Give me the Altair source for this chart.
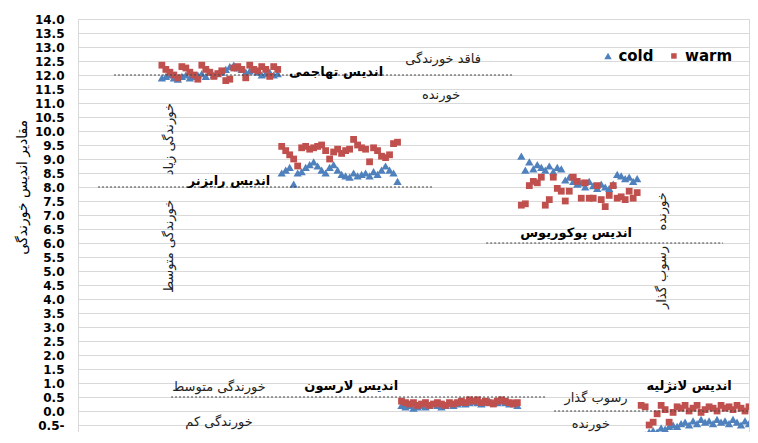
import altair as alt
import pandas as pd

# ---- data (corrosion index values, cold / warm season) ----
index_order = ["aggressive", "ryznar", "larson", "puckorius", "langelier"]

cold_aggressive = [11.9, 11.95, 12.0, 11.9, 11.85, 11.95, 12.0, 11.9, 11.95, 12.0,
                   12.05, 11.95, 12.1, 12.0, 12.05, 12.1, 12.2, 12.3, 12.35, 12.25,
                   12.2, 12.1, 12.15, 12.2, 12.1, 12.0, 12.05, 12.1, 12.0, 12.05]
warm_aggressive = [12.35, 12.2, 12.1, 12.0, 11.9, 12.3, 12.25, 12.1, 12.0, 11.85,
                   12.35, 12.2, 12.1, 11.95, 12.05, 12.15, 11.8, 11.85, 12.25, 12.3,
                   12.2, 11.9, 12.35, 12.2, 12.15, 12.3, 12.2, 11.95, 12.3, 12.2]
cold_ryznar = [8.5, 8.6, 8.7, 8.1, 8.5, 8.55, 8.7, 8.8, 8.9, 8.75,
               8.6, 8.5, 8.7, 8.8, 8.6, 8.45, 8.4, 8.35, 8.5, 8.4,
               8.45, 8.5, 8.4, 8.55, 8.45, 8.6, 8.75, 8.6, 8.5, 8.2]
warm_ryznar = [9.45, 9.3, 9.15, 9.0, 8.75, 9.4, 9.45, 9.35, 9.4, 9.45,
               9.5, 9.3, 9.0, 9.25, 9.35, 9.2, 9.3, 9.35, 9.7, 9.5,
               9.4, 9.35, 8.9, 9.4, 9.3, 9.1, 9.05, 9.15, 9.55, 9.6]
cold_larson = [0.2, 0.15, 0.2, 0.1, 0.15, 0.2, 0.15, 0.2, 0.25, 0.2,
               0.15, 0.2, 0.25, 0.2, 0.25, 0.3, 0.25, 0.3, 0.35, 0.3,
               0.25, 0.3, 0.35, 0.3, 0.3, 0.35, 0.3, 0.25, 0.3, 0.2]
warm_larson = [0.35, 0.3, 0.25, 0.3, 0.2, 0.25, 0.3, 0.2, 0.25, 0.3,
               0.25, 0.2, 0.3, 0.25, 0.3, 0.35, 0.3, 0.4, 0.35, 0.4,
               0.3, 0.35, 0.3, 0.25, 0.35, 0.4, 0.35, 0.3, 0.25, 0.3]
cold_puckorius = [9.1, 8.6, 8.9, 8.65, 8.8, 8.7, 8.6, 8.75, 8.55, 8.7,
                  8.65, 8.25, 8.35, 8.2, 8.1, 8.15, 8.0, 8.2, 8.05, 7.95,
                  8.1, 8.0, 7.95, 8.1, 8.45, 8.4, 8.3, 8.35, 8.2, 8.3]
warm_puckorius = [7.35, 7.4, 8.05, 8.2, 8.15, 8.35, 7.35, 7.55, 8.35, 7.95,
                  7.85, 7.5, 7.85, 8.35, 8.2, 7.6, 8.15, 7.6, 7.6, 8.05,
                  7.55, 7.3, 7.7, 8.05, 7.6, 7.65, 7.55, 7.85, 7.6, 7.8]
cold_langelier = [-0.9, -0.85, -0.75, -0.7, -0.75, -0.6, -0.65, -0.55, -0.5, -0.55,
                  -0.45, -0.4, -0.5, -0.35, -0.45, -0.3, -0.4, -0.35, -0.45, -0.3,
                  -0.4, -0.35, -0.45, -0.3, -0.4, -0.5, -0.35, -0.45, -0.4, -0.35]
warm_langelier = [0.2, 0.15, -0.5, -0.4, -0.1, 0.2, 0.05, -0.4, -0.05, 0.15,
                  0.1, 0.2, 0.0, 0.1, 0.2, -0.05, 0.05, 0.15, 0.1, 0.0,
                  0.2, 0.1, 0.15, 0.05, 0.2, 0.1, 0.0, 0.15, 0.1, 0.2]

series = {
    "aggressive": (cold_aggressive, warm_aggressive),
    "ryznar": (cold_ryznar, warm_ryznar),
    "larson": (cold_larson, warm_larson),
    "puckorius": (cold_puckorius, warm_puckorius),
    "langelier": (cold_langelier, warm_langelier),
}
first_sample = 21
samples_per_index = 30

# threshold lines of each index (limit value and sample range of the dotted line)
limit_values = [12.0, 8.0, 0.5, 6.0, 0.0]
limit_start = [9.0, 5.0, 23.3, 102.2, 119.2]
limit_end = [108.9, 88.9, 117.2, 161.5, 168.0]

# annotations
bold_labels = ["اندیس تهاجمی", "اندیس رایزنر", "اندیس پوکوریوس", "اندیس لارسون", "اندیس لانژلیه"]
bold_x = [64.6, 37.8, 124.7, 68.4, 153.0]
bold_y = [12.10, 8.21, 6.35, 0.91, 0.91]

plain_labels = ["فاقد خورندگی", "خورنده", "خورندگی متوسط", "خورندگی کم", "رسوب گذار", "خورنده"]
plain_x = [91.4, 90.9, 35.3, 35.3, 129.7, 128.4]
plain_y = [12.57, 11.28, 0.87, -0.41, 0.48, -0.48]

vert_labels = ["خورندگی زیاد", "خورندگی متوسط", "خورنده", "رسوب گذار"]
vert_x = [22.8, 22.8, 146.2, 146.2]
vert_y = [9.71, 5.88, 7.13, 4.77]

y_title = ["مقادیر اندیس خورندگی"]
y_title_x = [-13.8]
y_title_y = [7.99]

legend_names = ["cold", "warm"]
legend_sym_x = [132.7, 149.2]
legend_txt_x = [135.3, 152.0]
legend_y = [12.68, 12.68]

y_ticks = [-0.5 + 0.5 * i for i in range(30)]

# ---- tables ----
cold_rows, warm_rows = [], []
for g, name in enumerate(index_order):
    cold, warm = series[name]
    for j, v in enumerate(cold):
        cold_rows.append({"sample": first_sample + samples_per_index * g + j, "value": v})
    for j, v in enumerate(warm):
        warm_rows.append({"sample": first_sample + samples_per_index * g + j, "value": v})
cold_df = pd.DataFrame(cold_rows)
warm_df = pd.DataFrame(warm_rows)
limits_df = pd.DataFrame({"ly": limit_values, "lx": limit_start, "lx2": limit_end})
bold_df = pd.DataFrame({"t": bold_labels, "tx": bold_x, "ty": bold_y})
plain_df = pd.DataFrame({"t": plain_labels, "tx": plain_x, "ty": plain_y})
vert_df = pd.DataFrame({"t": vert_labels, "tx": vert_x, "ty": vert_y})
title_df = pd.DataFrame({"t": y_title, "tx": y_title_x, "ty": y_title_y})
leg_cold_df = pd.DataFrame({"t": legend_names[:1], "sx": legend_sym_x[:1], "lx": legend_txt_x[:1], "ty": legend_y[:1]})
leg_warm_df = pd.DataFrame({"t": legend_names[1:], "sx": legend_sym_x[1:], "lx": legend_txt_x[1:], "ty": legend_y[1:]})

FONT = "DejaVu Sans"
BLUE = "#4F81BD"
RED = "#C0504D"
X_DOMAIN = [0, 168]
Y_DOMAIN = [-0.75, 14]

label_expr = "datum.value < 0 ? format(-datum.value, '.1f') + '-' : format(datum.value, '.1f')"

Y_AXIS = alt.Axis(values=y_ticks, labelExpr=label_expr, labelFont=FONT,
                  labelFontWeight="bold", labelFontSize=12, labelColor="#000",
                  labelOverlap=False, ticks=False, domain=False, labelPadding=14,
                  grid=True, gridColor="#d9d9d9", title=None)


def xq(field):
    return alt.X(field, type="quantitative",
                 scale=alt.Scale(domain=X_DOMAIN, nice=False, zero=False), axis=None)


def yq(field):
    return alt.Y(field, type="quantitative",
                 scale=alt.Scale(domain=Y_DOMAIN, nice=False, zero=False), axis=Y_AXIS)


cold_pts = alt.Chart(cold_df).mark_point(filled=True, opacity=1, clip=True, size=70,
                                         shape="triangle-up", color=BLUE).encode(
    x=xq("sample"), y=yq("value"))
warm_pts = alt.Chart(warm_df).mark_point(filled=True, opacity=1, clip=True, size=46,
                                         shape="square", color=RED).encode(
    x=xq("sample"), y=yq("value"))

limits = alt.Chart(limits_df).mark_rule(color="#444", strokeDash=[2, 2]).encode(
    x=xq("lx"), x2="lx2", y=yq("ly"))

bold_text = alt.Chart(bold_df).mark_text(font=FONT, fontSize=13, fontWeight="bold", color="#000").encode(
    x=xq("tx"), y=yq("ty"), text="t")

plain_text = alt.Chart(plain_df).mark_text(font=FONT, fontSize=13, color="#222").encode(
    x=xq("tx"), y=yq("ty"), text="t")

vert_text = alt.Chart(vert_df).mark_text(font=FONT, fontSize=13, color="#222", angle=270).encode(
    x=xq("tx"), y=yq("ty"), text="t")

title_text = alt.Chart(title_df).mark_text(font=FONT, fontSize=14, color="#000", angle=270).encode(
    x=xq("tx"), y=yq("ty"), text="t")

leg_cold_sym = alt.Chart(leg_cold_df).mark_point(filled=True, opacity=1, size=55,
                                                 shape="triangle-up", color=BLUE).encode(
    x=xq("sx"), y=yq("ty"))
leg_warm_sym = alt.Chart(leg_warm_df).mark_point(filled=True, opacity=1, size=30,
                                                 shape="square", color=RED).encode(
    x=xq("sx"), y=yq("ty"))
leg_text = alt.Chart(pd.concat([leg_cold_df, leg_warm_df])).mark_text(
    font=FONT, fontSize=15, fontWeight="bold", color="#000", align="left").encode(
    x=xq("lx"), y=yq("ty"), text="t")

chart = alt.layer(cold_pts, warm_pts, limits, bold_text, plain_text, vert_text, title_text,
                  leg_cold_sym, leg_warm_sym, leg_text).properties(
    width=671, height=413,
    padding={"left": 7, "top": 5, "right": 0, "bottom": 0},
    background="white",
).configure_view(stroke="#d9d9d9")

chart.save("out.html", embed_options={"renderer": "svg", "actions": False})
